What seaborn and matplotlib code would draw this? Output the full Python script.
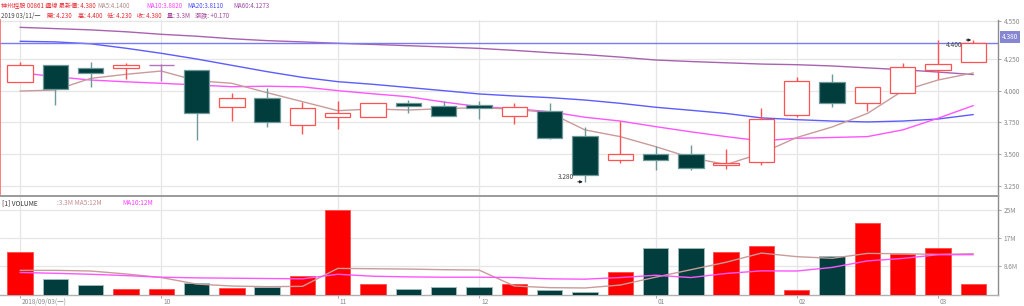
import matplotlib
matplotlib.use("Agg")
import matplotlib.pyplot as plt
import matplotlib.transforms as mtransforms
import numpy as np
import seaborn as sns

# ---------------- data ----------------
opens  = [4.07, 4.20, 4.18, 4.18, 4.20, 4.16, 3.87, 3.94, 3.73, 3.79, 3.79, 3.90, 3.88, 3.89,
          3.80, 3.84, 3.64, 3.45, 3.50, 3.50, 3.41, 3.44, 3.81, 4.07, 3.90, 3.98, 4.16, 4.23]
highs  = [4.23, 4.20, 4.23, 4.22, 4.21, 4.16, 3.98, 4.02, 3.91, 3.92, 3.90, 3.93, 3.92, 3.92,
          3.90, 3.90, 3.71, 3.76, 3.56, 3.57, 3.54, 3.86, 4.11, 4.13, 4.03, 4.22, 4.40, 4.40]
lows   = [4.07, 3.89, 4.03, 4.09, 4.08, 3.61, 3.76, 3.71, 3.66, 3.70, 3.79, 3.82, 3.80, 3.78,
          3.74, 3.62, 3.28, 3.43, 3.37, 3.37, 3.38, 3.41, 3.79, 3.87, 3.84, 3.98, 4.09, 4.23]
closes = [4.20, 4.01, 4.14, 4.20, 4.20, 3.82, 3.94, 3.75, 3.86, 3.82, 3.90, 3.88, 3.80, 3.86,
          3.87, 3.63, 3.33, 3.50, 3.45, 3.39, 3.43, 3.78, 4.08, 3.90, 4.03, 4.19, 4.21, 4.38]

ma5  = [3.997, 4.005, 4.097, 4.129, 4.155, 4.079, 4.058, 3.984, 3.913, 3.842, 3.855, 3.847, 3.858, 3.866,
        3.853, 3.826, 3.690, 3.637, 3.558, 3.471, 3.416, 3.506, 3.630, 3.713, 3.820, 3.998, 4.084, 4.140]
ma10 = [4.142, 4.110, 4.084, 4.070, 4.058, 4.045, 4.031, 4.035, 4.030, 4.000, 3.975, 3.952, 3.910, 3.874,
        3.858, 3.834, 3.790, 3.760, 3.716, 3.675, 3.637, 3.603, 3.624, 3.630, 3.637, 3.690, 3.782, 3.882]
ma20 = [4.390, 4.385, 4.370, 4.335, 4.295, 4.250, 4.200, 4.150, 4.105, 4.071, 4.050, 4.025, 4.000, 3.974,
        3.958, 3.945, 3.926, 3.900, 3.869, 3.845, 3.820, 3.785, 3.771, 3.760, 3.753, 3.760, 3.776, 3.811]
ma60 = [4.500, 4.490, 4.480, 4.465, 4.445, 4.430, 4.410, 4.395, 4.385, 4.374, 4.365, 4.355, 4.345, 4.334,
        4.318, 4.300, 4.285, 4.265, 4.242, 4.230, 4.220, 4.210, 4.205, 4.195, 4.180, 4.165, 4.147, 4.127]

volumes = [12.9, 4.7, 2.86, 1.63, 1.63, 3.47, 2.0, 2.45, 5.7, 26.0, 3.07, 1.63, 2.24, 2.24,
           3.27, 1.32, 0.8, 6.85, 14.4, 14.4, 13.0, 14.9, 1.32, 11.7, 22.0, 12.4, 14.2, 3.3]
vol_ma5  = [7.4, 7.4, 7.2, 6.3, 5.2, 3.2, 2.6, 2.4, 2.5, 8.0, 7.9, 7.8, 7.6, 7.5,
            2.6, 2.1, 2.0, 2.9, 5.3, 7.6, 9.9, 12.7, 11.6, 11.1, 12.6, 12.5, 12.3, 12.5]
vol_ma10 = [6.75, 6.5, 6.2, 5.8, 5.3, 5.1, 5.0, 4.9, 4.8, 6.2, 5.6, 5.4, 5.3, 5.3,
            5.2, 4.8, 4.7, 5.2, 5.9, 5.2, 6.45, 7.25, 7.2, 8.3, 10.3, 11.06, 12.2, 12.2]

month_pos    = [0, 4, 9, 13, 18, 22, 26]
month_labels = ["2018/09/03(一)", "10", "11", "12", "01", "02", "03"]
price_ticks  = [3.25, 3.50, 3.75, 4.00, 4.25, 4.55]
vol_ticks    = [8.6, 17.2, 25.8]
vol_labels   = ["8.6M", "17M", "25M"]
last_price   = 4.38
low_mark     = (16, 3.28)
high_mark    = (27, 4.40)

# ---------------- style ----------------
sns.set_theme(style="white")
plt.rcParams["font.family"] = ["Noto Sans CJK TC", "DejaVu Sans"]

RED = "#ff5252"
VRED = "#ff0000"
DARK = "#013d3d"
DARK_EDGE = "#6f9898"
DOJI = "#b274ba"
C_MA5, C_MA10, C_MA20, C_MA60 = "#c99b9b", "#ff55ff", "#5c5cff", "#a862b0"
GRID = "#e6e6e6"
TXT = "#8a8a8a"
FS = 4.7
FSH = 4.4

W, H = 1024, 306
fig = plt.figure(figsize=(W / 100, H / 100), dpi=100)
fig.patch.set_facecolor("white")

def fx(p):
    return p / W

def fy(p):
    return 1 - p / H

ax1 = fig.add_axes([0, fy(196), fx(998), (196 - 20) / H])
ax2 = fig.add_axes([0, fy(294.5), fx(998), (294.5 - 196) / H])

x = np.arange(len(opens))
o, h, l, c = map(np.array, (opens, highs, lows, closes))
up = c > o
down = c < o
doji = c == o
BW = 0.72

# ---------------- price panel ----------------
for ax in (ax1, ax2):
    ax.set_facecolor("white")
    ax.set_xticks(month_pos)
    ax.grid(True, axis="x", color=GRID, lw=0.9)
    ax.set_axisbelow(True)

ax1.grid(True, axis="y", color=GRID, lw=0.9)

for lvl, col in ((ma60, C_MA60), (ma20, C_MA20), (ma10, C_MA10), (ma5, C_MA5)):
    sns.lineplot(x=x, y=lvl, color=col, lw=1.0, ax=ax1, zorder=2)

ax1.axhline(last_price, color="#7a7af2", lw=1.0, zorder=2)

body_top = np.maximum(o, c)
body_bot = np.minimum(o, c)
wick_col = np.where(up, RED, np.where(down, DARK_EDGE, DOJI))
ax1.vlines(x, body_top, h, colors=wick_col, lw=1.0, zorder=3)
ax1.vlines(x, l, body_bot, colors=wick_col, lw=1.0, zorder=3)

ax1.bar(x[up], (c - o)[up], bottom=o[up], width=BW, facecolor="white",
        edgecolor=RED, lw=0.9, zorder=4)
ax1.bar(x[down], (o - c)[down], bottom=c[down], width=BW, facecolor=DARK,
        edgecolor=DARK_EDGE, lw=0.9, zorder=4)
ax1.hlines(o[doji], x[doji] - BW / 2, x[doji] + BW / 2, colors=DOJI, lw=1.0, zorder=4)

ax1.annotate("", xy=(low_mark[0] + 0.02, low_mark[1]), xytext=(low_mark[0] - 0.28, low_mark[1]),
             arrowprops=dict(arrowstyle="-|>", color="#222222", lw=0.7, mutation_scale=4), zorder=6)
ax1.text(low_mark[0] - 0.3, low_mark[1] + 0.005, f"{low_mark[1]:.3f}", ha="right", va="bottom",
         fontsize=FS, color="#444444", zorder=6)
ax1.annotate("", xy=(high_mark[0] + 0.02, high_mark[1]), xytext=(high_mark[0] - 0.28, high_mark[1]),
             arrowprops=dict(arrowstyle="-|>", color="#222222", lw=0.7, mutation_scale=4), zorder=6)
ax1.text(high_mark[0] - 0.31, high_mark[1] - 0.008, f"{high_mark[1]:.3f}", ha="right", va="top",
         fontsize=FS, color="#444444", zorder=6)

ax1.set_xlim(-0.567, 27.7)
ax1.set_ylim(3.168, 4.558)
ax1.yaxis.tick_right()
ax1.set_yticks(price_ticks, [f"{t:.3f}" for t in price_ticks])
ax1.tick_params(axis="y", right=True, length=2.5, width=0.6, color="#999999", pad=1.5,
                labelsize=FS, labelcolor=TXT)
ax1.tick_params(axis="x", length=0, labelbottom=False)
ax1.set_xlabel("")
ax1.set_ylabel("")
for s in ("top", "bottom"):
    ax1.spines[s].set_visible(False)
ax1.spines["left"].set_color("#ff6a6a")
ax1.spines["left"].set_linewidth(1.2)
ax1.spines["right"].set_color("#8c8c8c")
ax1.spines["right"].set_linewidth(1.0)

trans = mtransforms.blended_transform_factory(ax1.transAxes, ax1.transData)
ax1.text(1.004, last_price + 0.012, f"{last_price:.3f}", transform=trans, ha="left", va="bottom",
         fontsize=FS, color="white", clip_on=False, zorder=7,
         bbox=dict(boxstyle="square,pad=0.25", fc="#8686d2", ec="none"))

# ---------------- volume panel ----------------
v = np.array(volumes)
vup = c >= o
sns.barplot(x=x[vup], y=v[vup], color=VRED, native_scale=True, width=BW, ax=ax2,
            edgecolor="#ff4a4a", lw=0.6, saturation=1, zorder=3)
sns.barplot(x=x[~vup], y=v[~vup], color=DARK, native_scale=True, width=BW, ax=ax2,
            edgecolor="#9db8b8", lw=0.7, saturation=1, zorder=3)
sns.lineplot(x=x, y=vol_ma5, color=C_MA5, lw=1.0, ax=ax2, zorder=4)
sns.lineplot(x=x, y=vol_ma10, color=C_MA10, lw=1.0, ax=ax2, zorder=4)

ax2.grid(True, axis="y", color=GRID, lw=0.9)
ax2.set_xlim(-0.567, 27.7)
ax2.set_ylim(0, 30.2)
ax2.yaxis.tick_right()
ax2.set_yticks(vol_ticks, vol_labels)
ax2.tick_params(axis="y", right=True, length=2.5, width=0.6, color="#999999", pad=1.5,
                labelsize=FS, labelcolor=TXT)
ax2.set_xticks(month_pos, month_labels)
ax2.tick_params(axis="x", bottom=True, length=2.0, width=0.6, color="#999999", pad=0.2,
                labelsize=FS, labelcolor=TXT)
offset = mtransforms.ScaledTranslation(2 / 100, 0, fig.dpi_scale_trans)
for lab in ax2.get_xticklabels():
    lab.set_horizontalalignment("left")
    lab.set_transform(lab.get_transform() + offset)
ax2.set_xlabel("")
ax2.set_ylabel("")
ax2.spines["left"].set_visible(False)
ax2.spines["top"].set_color("#9a9a9a")
ax2.spines["top"].set_linewidth(1.4)
ax2.spines["right"].set_color("#8c8c8c")
ax2.spines["right"].set_linewidth(1.0)
ax2.spines["bottom"].set_color("#b0b0b0")
ax2.spines["bottom"].set_linewidth(1.0)

# ---------------- header texts ----------------
def t(xp, yp, s, col, fs=FSH):
    fig.text(fx(xp), fy(yp), s, color=col, fontsize=fs, ha="left", va="center")

t(1, 6, "神州控股 00861 週線 最新價: 4.380", "#e8262e")
t(97, 6, "MA5:4.1400", "#b08a8a")
t(146, 6, "MA10:3.8820", "#ff3cff")
t(187, 6, "MA20:3.8110", "#4848ff")
t(233, 6, "MA60:4.1273", "#9a4aa8")

t(1, 16, "2019 03/11/一", "#444444")
t(47, 16, "開: 4.230", "#e8262e")
t(78, 16, "高: 4.400", "#e8262e")
t(107, 16, "低: 4.230", "#e8262e")
t(137, 16, "收: 4.380", "#e8262e")
t(167, 16, "量: 3.3M", "#a2409c")
t(195, 16, "漲跌: +0.170", "#a2409c")

t(2, 203, "[1] VOLUME", "#333333", FS)
t(57, 203, ":3.3M MA5:12M", "#c58c8c", FS)
t(122, 203, "MA10:12M", "#ff3cff", FS)

fig.savefig("out.png", dpi=100, facecolor="white")
